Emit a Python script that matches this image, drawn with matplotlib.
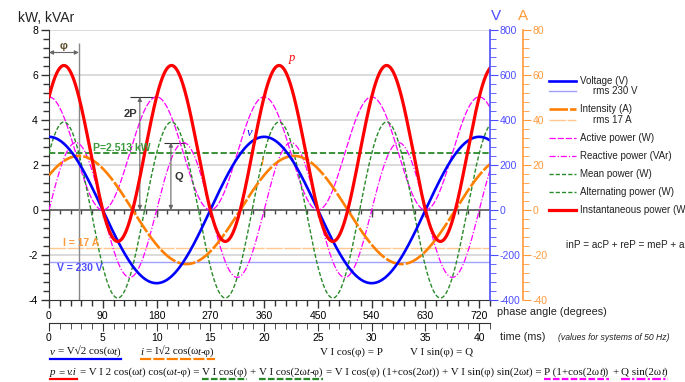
import numpy as np
import matplotlib
matplotlib.use('Agg')
import matplotlib.pyplot as plt
import matplotlib.ticker as tic
from matplotlib.lines import Line2D

plt.rcParams['font.family'] = ['Liberation Sans', 'DejaVu Sans']
plt.rcParams['axes.unicode_minus'] = False
SERIF = ['Liberation Serif', 'DejaVu Serif']

W, H = 685, 382

# values shown in the chart
V_RMS = 230        # V
I_RMS = 17         # A
PHI_DEG = 50       # degrees (P = 2.513 kW)
FREQ = 50          # Hz
DEG_MAX = 738      # 41 ms
deg_ticks = [0, 90, 180, 270, 360, 450, 540, 630, 720]
ms_ticks = [0, 5, 10, 15, 20, 25, 30, 35, 40]
left_ticks = [-4, -2, 0, 2, 4, 6, 8]
volt_ticks = [-400, -200, 0, 200, 400, 600, 800]
amp_ticks = [-40, -20, 0, 20, 40, 60, 80]
legend_labels = ['Voltage (V)', 'rms 230 V', 'Intensity (A)', 'rms 17 A',
                 'Active power (W)', 'Reactive power (VAr)', 'Mean power (W)',
                 'Alternating power (W)', 'Instantaneous power (W)']

C_V = '#0000ff'; C_VL = '#a0a0ff'; C_VAX = '#4d4dff'
C_I = '#ff8000'; C_IL = '#ffc890'; C_IAX = '#ff9a3c'
C_MAG = '#ff00ff'; C_GR = '#2a8a2a'; C_P = '#ff0000'

# curves from the formulas printed under the chart
th = np.linspace(0, DEG_MAX, 2000)
r = np.radians(th)
phi = np.radians(PHI_DEG)
S = V_RMS * I_RMS / 1000.0
P = S * np.cos(phi)
Q = S * np.sin(phi)
v = V_RMS * np.sqrt(2) * np.cos(r)
i = I_RMS * np.sqrt(2) * np.cos(r - phi)
p_act = P * (1 + np.cos(2 * r))
p_rea = Q * np.sin(2 * r)
p_alt = S * np.cos(2 * r - phi)
p_ins = v * i / 1000.0

fig = plt.figure(figsize=(W / 100, H / 100), dpi=100)
ax = fig.add_axes([49 / W, 82 / H, 441 / W, 270 / H])
ax.set_xlim(0, DEG_MAX)
ax.set_ylim(-4, 8)
for s in ['top', 'right']:
    ax.spines[s].set_visible(False)
ax.spines['left'].set_color('#333333')
ax.spines['bottom'].set_color('#333333')
ax.xaxis.set_major_locator(tic.FixedLocator(deg_ticks))
ax.xaxis.set_minor_locator(tic.MultipleLocator(18))
ax.yaxis.set_major_locator(tic.FixedLocator(left_ticks))
ax.yaxis.set_minor_locator(tic.MultipleLocator(0.4))
ax.tick_params(which='major', length=6, width=1, color='#333333', labelsize=7.5, pad=2)
ax.tick_params(which='minor', length=4, width=1, color='#333333')
ax.tick_params(axis='x', which='major', pad=2)
for y in left_ticks[1:]:
    if y != 0:
        ax.axhline(y, color='#d8d8d8', lw=1.3, zorder=0)

# zero line with its own ticks
ax.axhline(0, color='#444444', lw=1.1, zorder=1)
ax.vlines(np.arange(0, DEG_MAX, 18), -0.17, 0, color='#444444', lw=1, zorder=1)
ax.vlines(deg_ticks, -0.32, 0, color='#444444', lw=1, zorder=1)

# V axis
ax_v = ax.twinx()
ax_v.set_ylim(-400, 800)
for s in ['top', 'left', 'bottom']:
    ax_v.spines[s].set_visible(False)
ax_v.spines['right'].set_color(C_VAX)
ax_v.spines['right'].set_linewidth(1.2)
ax_v.yaxis.set_major_locator(tic.FixedLocator(volt_ticks))
ax_v.yaxis.set_minor_locator(tic.MultipleLocator(40))
ax_v.tick_params(which='major', length=6, color=C_VAX, labelcolor=C_VAX, labelsize=7.5, pad=1)
ax_v.tick_params(which='minor', length=4, color=C_VAX)

# A axis
ax_a = ax.twinx()
ax_a.set_ylim(-40, 80)
for s in ['top', 'left', 'bottom']:
    ax_a.spines[s].set_visible(False)
ax_a.spines['right'].set_position(('outward', 33 * 0.72))
ax_a.spines['right'].set_color(C_IAX)
ax_a.spines['right'].set_linewidth(1.2)
ax_a.yaxis.set_major_locator(tic.FixedLocator(amp_ticks))
ax_a.yaxis.set_minor_locator(tic.MultipleLocator(4))
ax_a.tick_params(which='major', length=6, color=C_IAX, labelcolor=C_IAX, labelsize=7.5, pad=1)
ax_a.tick_params(which='minor', length=4, color=C_IAX)

# time axis
sec = ax.secondary_xaxis(-23 / 270, functions=(lambda d: d / 18.0, lambda m: m * 18.0))
sec.xaxis.set_major_locator(tic.FixedLocator(ms_ticks))
sec.xaxis.set_minor_locator(tic.MultipleLocator(1))
sec.spines['bottom'].set_color('#333333')
sec.tick_params(which='major', length=6, color='#333333', labelsize=7.5, pad=1)
sec.tick_params(which='minor', length=4, color='#333333')

# reference lines
ax.axhline(-V_RMS / 100, color=C_VL, lw=1, zorder=2)
ax.axhline(-I_RMS / 10, color=C_IL, lw=1, dashes=(12, 1), zorder=2)
ax.axhline(P, color=C_GR, lw=1.3, dashes=(3.5, 1.5), zorder=3)

# curves
ax.plot(th, p_rea, color=C_MAG, lw=0.9, dashes=(5, 1.5, 1, 1.5), zorder=3)
ax.plot(th, p_act, color=C_MAG, lw=0.9, dashes=(5, 1.5), zorder=3)
ax.plot(th, p_alt, color=C_GR, lw=1.0, dashes=(3, 1.5), zorder=3)
ax.plot(th, i / 10, color=C_I, lw=1.9, dashes=(7, 0.8), zorder=4)
ax.plot(th, v / 100, color=C_V, lw=1.9, zorder=5)
ax.plot(th, p_ins, color=C_P, lw=2.3, zorder=6)

# annotations
gray = '#666666'
ax.vlines(PHI_DEG, -4, 7.42, color='#888888', lw=1, zorder=2)
ax.annotate('', xy=(0, 7.0), xytext=(PHI_DEG, 7.0),
            arrowprops=dict(arrowstyle='<|-|>', color=gray, lw=0.8, mutation_scale=6, shrinkA=0, shrinkB=0))
ax.text(PHI_DEG / 2, 7.28, 'φ', ha='center', va='center', fontsize=8, fontweight='bold', color='#5a4a2a')
ax.annotate('', xy=(152, 2 * P), xytext=(152, 0),
            arrowprops=dict(arrowstyle='<|-|>', color=gray, lw=0.8, mutation_scale=6, shrinkA=0, shrinkB=0))
ax.hlines(2 * P, 136, 182, color='#333333', lw=0.8, zorder=2)
ax.text(137, 4.27, '2P', ha='center', va='center', fontsize=8, fontweight='bold', color='#333333')
ax.annotate('', xy=(204, Q), xytext=(204, 0),
            arrowprops=dict(arrowstyle='<|-|>', color=gray, lw=0.8, mutation_scale=6, shrinkA=0, shrinkB=0))
ax.hlines(Q, 192, 228, color='#333333', lw=0.8, zorder=2)
ax.text(218, 1.47, 'Q', ha='center', va='center', fontsize=8, fontweight='bold', color='#333333')
ax.text(73, 2.76, 'P=%.3f kW' % P, ha='left', va='center', fontsize=7.5, fontweight='bold',
        color='#3a9a3a', zorder=7)
ax.text(23, -1.47, 'I = %d A' % I_RMS, ha='left', va='center', fontsize=7.5, fontweight='bold',
        color='#ff9a3c', zorder=7)
ax.text(13, -2.58, 'V = %d V' % V_RMS, ha='left', va='center', fontsize=7.5, color=C_VAX,
        fontweight='bold', zorder=7)
ax.text(336, 3.42, 'v', ha='center', va='center', fontsize=9, style='italic', family=SERIF, color=C_V, zorder=7)
ax.text(357, 2.13, 'i', ha='center', va='center', fontsize=9, style='italic', family=SERIF, color=C_I, zorder=7)
ax.text(407, 6.76, 'p', ha='center', va='center', fontsize=9, style='italic', family=SERIF, color=C_P, zorder=7)


def fx(x):
    return x / W


def fy(y):
    return 1 - y / H


fig.text(fx(18), fy(18), 'kW, kVAr', fontsize=10, va='center', ha='left', color='#222222')
fig.text(fx(496), fy(16), 'V', fontsize=11, va='center', ha='center', color=C_VAX)
fig.text(fx(523), fy(16), 'A', fontsize=11, va='center', ha='center', color=C_IAX)
fig.text(fx(497), fy(312), 'phase angle (degrees)', fontsize=7.8, va='center', ha='left', color='#222222')
fig.text(fx(500), fy(337), 'time (ms)', fontsize=7.8, va='center', ha='left', color='#222222')
fig.text(fx(558), fy(338), '(values for systems of 50 Hz)', fontsize=6.2, style='italic',
         va='center', ha='left', color='#222222')
fig.text(fx(566), fy(245), 'inP = acP + reP = meP + alP', fontsize=7.2, va='center', ha='left',
         color='#222222')

# legend
leg_rows = [81, 91, 109, 120, 138, 156, 174, 192, 210]
leg_styles = [dict(color=C_V, lw=1.9), dict(color=C_VL, lw=1),
              dict(color=C_I, lw=1.9, dashes=(7, 0.8)), dict(color=C_IL, lw=1, dashes=(12, 1)),
              dict(color=C_MAG, lw=0.9, dashes=(5, 1.5)), dict(color=C_MAG, lw=0.9, dashes=(5, 1.5, 1, 1.5)),
              dict(color=C_GR, lw=1.0, dashes=(3, 1.5)), dict(color=C_GR, lw=1.0, dashes=(3, 1.5)),
              dict(color=C_P, lw=2.3)]
for k, (lab, yy, st) in enumerate(zip(legend_labels, leg_rows, leg_styles)):
    fig.add_artist(Line2D([fx(549), fx(576)], [fy(yy), fy(yy)], **st))
    x0 = 593 if lab.startswith('rms') else 580
    fig.text(fx(x0), fy(yy), lab, fontsize=7, va='center', ha='left', color='#222222')

# formula lines with underlines
rend = fig.canvas.get_renderer()


def width(s, size, italic):
    t = fig.text(0, 0, 'x' + s + 'x', fontsize=size, family=SERIF, style='italic' if italic else 'normal')
    t2 = fig.text(0, 0, 'xx', fontsize=size, family=SERIF, style='italic' if italic else 'normal')
    w = t.get_window_extent(rend).width - t2.get_window_extent(rend).width
    t.remove(); t2.remove()
    return w


def draw_line(x0, y0, segs, size, draw=True):
    x = x0
    for text, ucol, udash in segs:
        xs = x
        for k, part in enumerate(text.split('|')):
            if not part:
                continue
            it = k % 2 == 1
            lead = len(part) - len(part.lstrip(' '))
            if draw and part.strip():
                fig.text(fx(x + lead * width(' ', size, it)), fy(y0), part.strip(' '), fontsize=size,
                         family=SERIF, style='italic' if it else 'normal', va='baseline', ha='left',
                         color='#111111')
            x += width(part, size, it)
        if draw and ucol:
            kw = dict(color=ucol, lw=1.6)
            if udash:
                kw['dashes'] = udash
            fig.add_artist(Line2D([fx(xs), fx(x)], [fy(y0 + 4), fy(y0 + 4)], **kw))
    return x - x0


line1 = [('|v| = V√2 cos(ω|t|)', C_V, None)]
line1b = [('|i| = I√2 cos(ω|t|-φ)', C_I, (5, 1))]
line1c = [('V I cos(φ) = P', None, None)]
line1d = [('V I sin(φ) = Q', None, None)]
line2 = [('|p| = |v.i|', C_P, None),
         (' = V I 2 cos(ω|t|) cos(ω|t|-φ) = ', None, None),
         ('V I cos(φ)', C_GR, (3, 1)),
         (' + ', None, None),
         ('V I cos(2ω|t|-φ)', C_GR, (3, 1)),
         (' = V I cos(φ) (1+cos(2ω|t|)) + V I sin(φ) sin(2ω|t|) = ', None, None),
         ('P (1+cos(2ω|t|))', C_MAG, (3, 1)),
         (' + ', None, None),
         ('Q sin(2ω|t|)', C_MAG, (4, 1, 1, 1))]

fs = 7.5 * 613 / draw_line(50, 375, line2, 7.5, draw=False)
draw_line(50, 375, line2, fs)
draw_line(50, 355, line1, fs)
draw_line(140, 355, line1b, fs)
draw_line(320, 355, line1c, fs)
draw_line(410, 355, line1d, fs)

fig.savefig('out.png', dpi=100)
